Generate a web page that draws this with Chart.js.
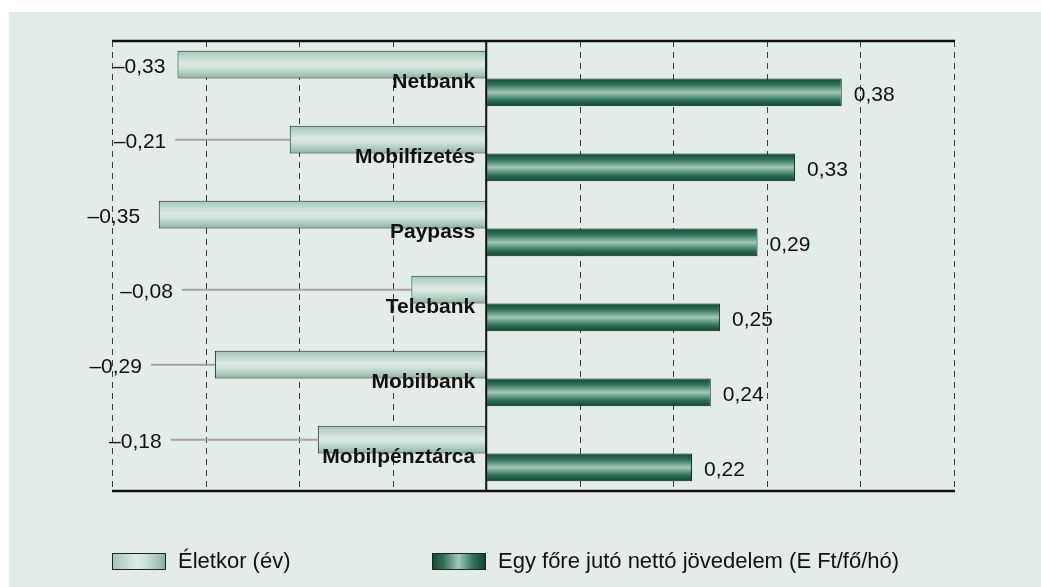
<!DOCTYPE html>
<html>
<head>
<meta charset="utf-8">
<script src="https://cdn.jsdelivr.net/npm/chart.js@4/dist/chart.umd.min.js"></script>
<style>
  html, body { margin: 0; padding: 0; background: #ffffff; }
  #wrap { width: 1041px; height: 587px; position: relative; }
</style>
</head>
<body>
<div id="wrap"><canvas id="c" width="1041" height="587"></canvas></div>
<script>
const categories = ['Netbank', 'Mobilfizetés', 'Paypass', 'Telebank', 'Mobilbank', 'Mobilpénztárca'];
const ageValues = [-0.33, -0.21, -0.35, -0.08, -0.29, -0.18];
const incomeValues = [0.38, 0.33, 0.29, 0.25, 0.24, 0.22];
const ageLabelAnchor = [-0.343, -0.342, -0.370, -0.335, -0.368, -0.347];
const seriesNames = ['Életkor (év)', 'Egy főre jutó nettó jövedelem (E Ft/fő/hó)'];
const xTicks = [-0.4, -0.3, -0.2, -0.1, 0, 0.1, 0.2, 0.3, 0.4, 0.5];

const FONT = '"Liberation Sans", Arial, Helvetica, sans-serif';
const BG = '#e3ece9';

function fmt(v) {
  return (v < 0 ? '\u2013' : '') + Math.abs(v).toFixed(2).replace('.', ',');
}

function lightGrad(ctx, x0, y0, x1, y1) {
  const g = ctx.createLinearGradient(x0, y0, x1, y1);
  g.addColorStop(0, '#a3c5b8');
  g.addColorStop(0.2, '#bcd6cc');
  g.addColorStop(0.45, '#dbeae4');
  g.addColorStop(0.6, '#d0e3dc');
  g.addColorStop(0.85, '#a8c6ba');
  g.addColorStop(1, '#8caea1');
  return g;
}
function darkGrad(ctx, x0, y0, x1, y1) {
  const g = ctx.createLinearGradient(x0, y0, x1, y1);
  g.addColorStop(0, '#0b4b35');
  g.addColorStop(0.22, '#2f7259');
  g.addColorStop(0.5, '#a2c8b9');
  g.addColorStop(0.78, '#2f7259');
  g.addColorStop(1, '#0a4631');
  return g;
}

const decorPlugin = {
  id: 'decor',
  beforeDraw(chart) {
    const ctx = chart.ctx;
    ctx.save();
    ctx.fillStyle = '#ffffff';
    ctx.fillRect(0, 0, chart.width, chart.height);
    ctx.fillStyle = BG;
    ctx.fillRect(9, 12, chart.width - 9, chart.height - 12);
    const area = chart.chartArea;
    const xs = chart.scales.x;
    // dashed grid lines
    ctx.strokeStyle = '#3a3a3a';
    ctx.lineWidth = 1;
    ctx.setLineDash([6, 5]);
    xTicks.forEach(t => {
      if (t === 0) return;
      const x = Math.round(xs.getPixelForValue(t)) + 0.5;
      ctx.beginPath();
      ctx.moveTo(x, area.top);
      ctx.lineTo(x, area.bottom);
      ctx.stroke();
    });
    ctx.setLineDash([]);
    // leader lines
    const meta0 = chart.getDatasetMeta(0);
    ctx.strokeStyle = '#a3a3a3';
    ctx.lineWidth = 2;
    meta0.data.forEach((bar, i) => {
      const labelRight = xs.getPixelForValue(ageLabelAnchor[i]);
      const start = labelRight + 9;
      const end = bar.x;
      if (end - start > 12) {
        ctx.beginPath();
        ctx.moveTo(start, bar.y);
        ctx.lineTo(end, bar.y);
        ctx.stroke();
      }
    });
    ctx.restore();
  },
  beforeDatasetsDraw(chart) {
    const ctx = chart.ctx;
    chart.data.datasets.forEach((ds, di) => {
      const meta = chart.getDatasetMeta(di);
      meta.data.forEach(bar => {
        const h = bar.height;
        const y0 = bar.y - h / 2, y1 = bar.y + h / 2;
        bar.options.backgroundColor = di === 0 ? lightGrad(ctx, 0, y0, 0, y1) : darkGrad(ctx, 0, y0, 0, y1);
      });
    });
  },
  afterDatasetsDraw(chart) {
    const ctx = chart.ctx;
    const area = chart.chartArea;
    const xs = chart.scales.x;
    const ys = chart.scales.y;
    ctx.save();
    // zero line
    const zx = xs.getPixelForValue(0);
    ctx.strokeStyle = '#111111';
    ctx.lineWidth = 2;
    ctx.beginPath();
    ctx.moveTo(zx, area.top);
    ctx.lineTo(zx, area.bottom);
    ctx.stroke();
    // top & bottom frame lines
    ctx.lineWidth = 2.6;
    ctx.beginPath();
    ctx.moveTo(xs.getPixelForValue(xTicks[0]), area.top);
    ctx.lineTo(xs.getPixelForValue(xTicks[xTicks.length - 1]) + 1, area.top);
    ctx.moveTo(xs.getPixelForValue(xTicks[0]), area.bottom);
    ctx.lineTo(xs.getPixelForValue(xTicks[xTicks.length - 1]) + 1, area.bottom);
    ctx.stroke();

    // value labels
    ctx.fillStyle = '#111111';
    ctx.font = '21px ' + FONT;
    ctx.textBaseline = 'middle';
    const meta0 = chart.getDatasetMeta(0);
    meta0.data.forEach((bar, i) => {
      ctx.textAlign = 'right';
      ctx.fillText(fmt(ageValues[i]), xs.getPixelForValue(ageLabelAnchor[i]), bar.y + 3);
    });
    const meta1 = chart.getDatasetMeta(1);
    meta1.data.forEach((bar, i) => {
      ctx.textAlign = 'left';
      ctx.fillText(fmt(incomeValues[i]), bar.x + 12, bar.y + 3);
    });

    // category labels
    ctx.font = 'bold 21px ' + FONT;
    ctx.textAlign = 'right';
    categories.forEach((c, i) => {
      ctx.fillText(c, zx - 11, ys.getPixelForValue(i) + 4);
    });

    // legend
    const items = [
      { x: 112, grad: (a, b) => lightGrad(ctx, a, 0, b, 0) },
      { x: 432, grad: (a, b) => darkGrad(ctx, a, 0, b, 0) }
    ];
    ctx.font = '22px ' + FONT;
    ctx.textAlign = 'left';
    items.forEach((it, i) => {
      const bx = it.x, by = 553, bw = 53, bh = 16;
      ctx.fillStyle = it.grad(bx, bx + bw);
      ctx.fillRect(bx, by, bw, bh);
      ctx.strokeStyle = '#222222';
      ctx.lineWidth = 1;
      ctx.strokeRect(bx + 0.5, by + 0.5, bw, bh);
      ctx.fillStyle = '#111111';
      ctx.fillText(seriesNames[i], bx + 66, by + 9);
    });
    ctx.restore();
  }
};

new Chart(document.getElementById('c'), {
  type: 'bar',
  data: {
    labels: categories,
    datasets: [
      {
        label: seriesNames[0],
        data: ageValues,
        backgroundColor: () => '#c8ddd5',
        borderColor: '#1e2b26',
        borderWidth: 1,
        borderSkipped: false,
        categoryPercentage: 0.74,
        barPercentage: 1.0
      },
      {
        label: seriesNames[1],
        data: incomeValues,
        backgroundColor: () => '#2f7259',
        borderColor: '#0e1f18',
        borderWidth: 1,
        borderSkipped: false,
        categoryPercentage: 0.74,
        barPercentage: 1.0
      }
    ]
  },
  options: {
    indexAxis: 'y',
    responsive: false,
    animation: false,
    devicePixelRatio: 1,
    layout: { padding: { left: 112, right: 87, top: 41, bottom: 96 } },
    scales: {
      x: { display: false, min: -0.4, max: 0.5 },
      y: { display: false }
    },
    plugins: {
      legend: { display: false },
      tooltip: { enabled: false }
    }
  },
  plugins: [decorPlugin]
});
</script>
</body>
</html>
